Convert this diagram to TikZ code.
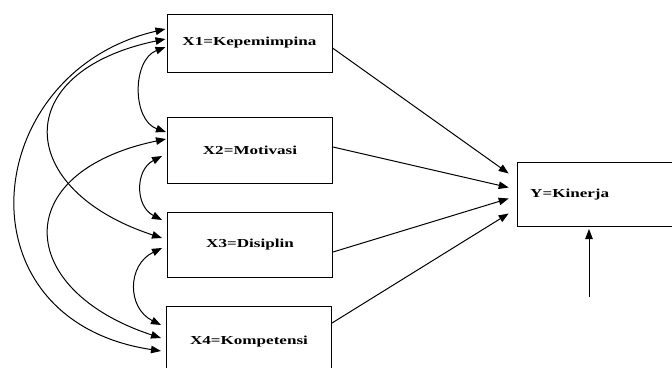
\documentclass[tikz,border=0pt]{standalone}
\usepackage{fontspec}
\setmainfont{Liberation Serif}[FakeStretch=1.4]
\usetikzlibrary{arrows.meta,calc}

\tikzset{
  varbox/.style={draw, line width=1pt, minimum width=165pt, inner sep=0pt,
    font=\fontsize{12.2}{14}\selectfont\bfseries},
  corr/.style={{Triangle[length=10pt,width=7.5pt]}-{Triangle[length=10pt,width=7.5pt]}, line width=1pt},
  effect/.style={-{Triangle[length=10pt,width=7.5pt]}, line width=1pt},
}

\begin{document}
\begin{tikzpicture}[x=1pt,y=1pt,yscale=-1,xscale=1]
\useasboundingbox (0,0) rectangle (672,367);
\clip (0,0) rectangle (672,367);

%Shape: Rectangle [X1]
\node[varbox, minimum height=58pt] (x1) at (249.5,43) {X1=Kepemimpina};
%Shape: Rectangle [X2]
\node[varbox, minimum height=66pt] (x2) at (250,150) {X2=Motivasi};
%Shape: Rectangle [X3]
\node[varbox, minimum height=65pt] (x3) at (250,244.5) {X3=Disiplin};
%Shape: Rectangle [X4]
\node[varbox, minimum height=72pt] (x4) at (249,342) {X4=Kompetensi};
%Shape: Rectangle [Y]
\node[varbox, anchor=north west, minimum height=64pt, text width=140pt,
  inner xsep=13pt, align=left] (y) at (516.7,162) {Y=Kinerja};

%Straight Lines [X -> Y]
\draw[effect] ($(x1.east)+(0,5)$) -- ($(y.west)+(-8,-21)$);
\draw[effect] ($(x2.east)+(0,-3)$) -- ($(y.west)+(-8,-7)$);
\draw[effect] ($(x3.east)+(0,7.5)$) -- ($(y.west)+(-8,4)$);
\draw[effect] ($(x4.east)+(0,-19)$) -- ($(y.west)+(-8,19)$);

%Straight Lines [error]
\coordinate (e) at (589,297);
\draw[effect] (e) -- ($(y.south -| e)+(0,2)$);

%Curve Lines [neighbours]
\draw[corr] ($(x1.west)+(-1,4)$) .. controls (132,60) and (132,120) .. ($(x2.west)+(-1,-18)$);
\draw[corr] ($(x2.west)+(-5,6)$) .. controls (135,170) and (135,206) .. ($(x3.west)+(-5,-24.5)$);
\draw[corr] ($(x3.west)+(-5,3.5)$) .. controls (127,265) and (127,308) .. ($(x4.west)+(-5,-17)$);

%Curve Lines [long]
\draw[corr] ($(x1.west)+(-1,-4)$) .. controls (8,72) and (15,190) .. ($(x3.west)+(-5,-6.5)$);
\draw[corr] ($(x2.west)+(-1,-11)$) .. controls (8,172) and (15,290) .. ($(x4.west)+(-5,-4)$);
\draw[corr] ($(x1.west)+(-1,-14)$) .. controls (-20,72) and (-45,320) .. ($(x4.west)+(-5,9)$);

\end{tikzpicture}
\end{document}
